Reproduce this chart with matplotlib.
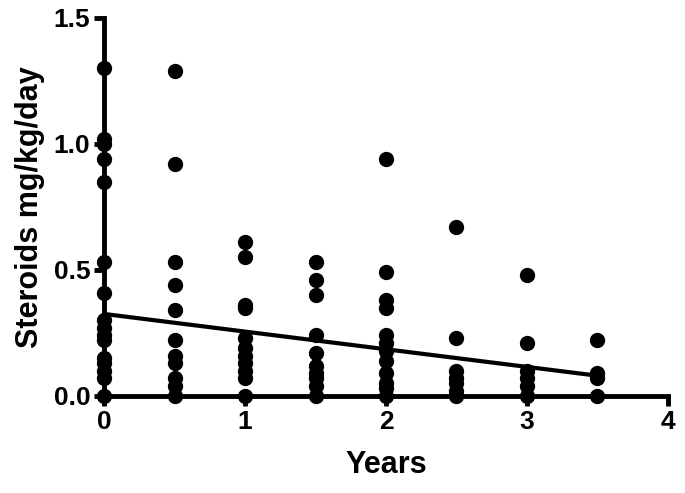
import matplotlib.pyplot as plt

plt.rcParams['font.family'] = ['Liberation Sans', 'DejaVu Sans']
plt.rcParams['font.weight'] = 'bold'

years = [0, 0.5, 1, 1.5, 2, 2.5, 3, 3.5]
steroids = [
    [1.30, 1.02, 1.00, 0.94, 0.85, 0.53, 0.41, 0.30, 0.27, 0.24, 0.22, 0.15, 0.13, 0.10, 0.07, 0.0],
    [1.29, 0.92, 0.53, 0.44, 0.34, 0.22, 0.16, 0.13, 0.07, 0.04, 0.0],
    [0.61, 0.55, 0.36, 0.35, 0.23, 0.19, 0.16, 0.13, 0.10, 0.07, 0.0],
    [0.53, 0.46, 0.40, 0.24, 0.17, 0.12, 0.09, 0.07, 0.04, 0.0],
    [0.94, 0.49, 0.38, 0.35, 0.24, 0.21, 0.18, 0.14, 0.09, 0.05, 0.03, 0.0],
    [0.67, 0.23, 0.10, 0.07, 0.05, 0.02, 0.0],
    [0.48, 0.21, 0.10, 0.07, 0.04, 0.0],
    [0.22, 0.09, 0.07, 0.0],
]
fit_x = [0, 3.5]
fit_y = [0.325, 0.08]

fig = plt.figure(figsize=(6.85, 4.93), dpi=100)
ax = fig.add_axes([0.152, 0.197, 0.823, 0.767])

for x, vals in zip(years, steroids):
    ax.plot([x] * len(vals), vals, 'o', color='black', markersize=10, clip_on=False, zorder=3)

ax.plot(fit_x, fit_y, color='black', linewidth=3, zorder=2)

ax.set_xlim(0, 4)
ax.set_ylim(0, 1.5)
ax.set_xticks([0, 1, 2, 3, 4])
ax.set_yticks([0.0, 0.5, 1.0, 1.5])
ax.set_yticklabels(['0.0', '0.5', '1.0', '1.5'])
for s in ['top', 'right']:
    ax.spines[s].set_visible(False)
for s in ['left', 'bottom']:
    ax.spines[s].set_linewidth(3.5)
ax.tick_params(width=3.5, length=7, labelsize=19, direction='out', pad=3)
for lbl in ax.get_xticklabels() + ax.get_yticklabels():
    lbl.set_fontweight('bold')

ax.set_xlabel('Years', fontsize=22, fontweight='bold', labelpad=12)
ax.set_ylabel('Steroids mg/kg/day', fontsize=22, fontweight='bold', labelpad=6)

fig.savefig('out.png', dpi=100)
